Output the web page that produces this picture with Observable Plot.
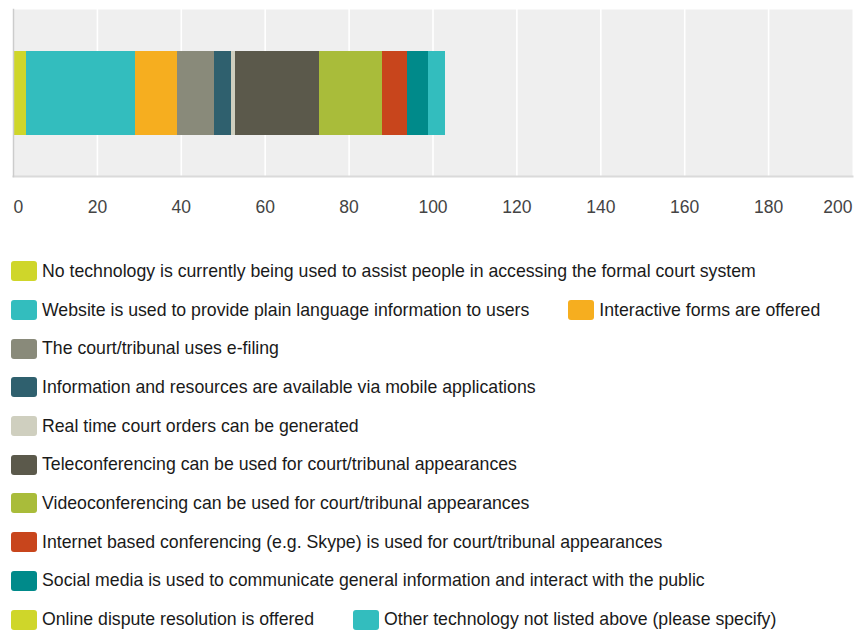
<!DOCTYPE html>
<html>
<head>
<meta charset="utf-8">
<script src="https://cdn.jsdelivr.net/npm/d3@7"></script>
<script src="https://cdn.jsdelivr.net/npm/@observablehq/plot@0.6"></script>
<style>
  body { margin: 0; background: #fff; font-family: "Liberation Sans", Arial, sans-serif; overflow: hidden; }
  #chart { width: 856px; height: 225px; }
  #legend { display: flex; flex-wrap: wrap; width: 866px; padding-left: 11px; margin-top: 27px; }
  .item { display: flex; align-items: center; height: 38.7px; margin-right: 39px; font-size: 17.7px; color: #1a1a1a; white-space: nowrap; }
  .sw { width: 26px; height: 20px; border-radius: 3px; margin-right: 5px; flex: none; }
</style>
</head>
<body>
<div id="chart"></div>
<div id="legend"></div>
<script>
const categories = [
  "No technology is currently being used to assist people in accessing the formal court system",
  "Website is used to provide plain language information to users",
  "Interactive forms are offered",
  "The court/tribunal uses e-filing",
  "Information and resources are available via mobile applications",
  "Real time court orders can be generated",
  "Teleconferencing can be used for court/tribunal appearances",
  "Videoconferencing can be used for court/tribunal appearances",
  "Internet based conferencing (e.g. Skype) is used for court/tribunal appearances",
  "Social media is used to communicate general information and interact with the public",
  "Online dispute resolution is offered",
  "Other technology not listed above (please specify)"
];
const values = [3, 26, 10, 9, 4, 1, 20, 15, 6, 5, 0, 4];
const colors = ["#cfd62a", "#33bdbe", "#f6ae1f", "#898a7a", "#2f606e", "#cfcfbf",
                "#5b594b", "#a9bc3a", "#c8451c", "#008a8a", "#cfd62a", "#33bdbe"];
const xTicks = [0, 20, 40, 60, 80, 100, 120, 140, 160, 180, 200];

const data = categories.map((c, i) => ({category: c, value: values[i], row: ""}));

const axisOpts = {tickSize: 0, tickPadding: 24, fontSize: 17.5, fill: "#444", anchor: "bottom", label: null};

const chart = Plot.plot({
  width: 856,
  height: 225,
  marginLeft: 13,
  marginRight: 4,
  marginTop: 9,
  marginBottom: 49,
  style: {fontFamily: "'Liberation Sans', Arial, sans-serif", background: "#fff"},
  x: {domain: [0, 200], axis: null, label: null},
  y: {domain: [""], axis: null, padding: 0.33},
  color: {domain: categories, range: colors},
  marks: [
    Plot.frame({fill: "#efefef", stroke: null}),
    Plot.gridX(xTicks.slice(1, -1), {stroke: "#fff", strokeOpacity: 1, strokeWidth: 1.6}),
    Plot.barX(data, Plot.stackX({x: "value", y: "row", fill: "category", order: null, shapeRendering: "crispEdges"})),
    Plot.frame({anchor: "bottom", stroke: "#dadada", strokeWidth: 2}),
    Plot.frame({anchor: "left", stroke: "#cccccc", strokeWidth: 1.5}),
    Plot.axisX(xTicks.slice(1, -1), axisOpts),
    Plot.axisX(xTicks.slice(0, 1), {...axisOpts, textAnchor: "start"}),
    Plot.axisX(xTicks.slice(-1), {...axisOpts, textAnchor: "end"})
  ]
});
document.getElementById("chart").appendChild(chart);

const legend = document.getElementById("legend");
categories.forEach((c, i) => {
  const item = document.createElement("div");
  item.className = "item";
  const sw = document.createElement("span");
  sw.className = "sw";
  sw.style.background = colors[i];
  const label = document.createElement("span");
  label.textContent = c;
  item.appendChild(sw);
  item.appendChild(label);
  legend.appendChild(item);
});
</script>
</body>
</html>
